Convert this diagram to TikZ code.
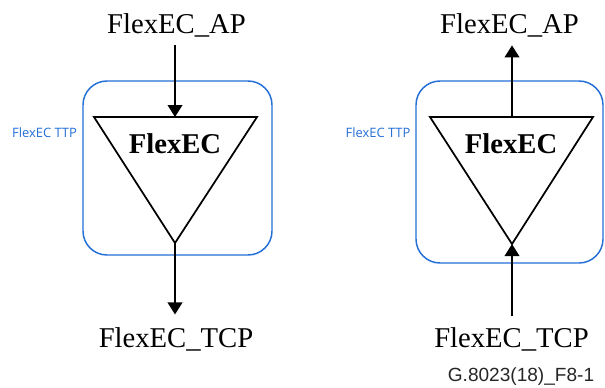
\documentclass[tikz,border=0pt]{standalone}
\usepackage{fontspec}
\setmainfont{Liberation Serif}
\newfontfamily\ttpfont{Open Sans}
\newfontfamily\notefont{Liberation Sans}
\usetikzlibrary{arrows.meta, positioning}
\definecolor{ttpblue}{RGB}{35,110,215}
\tikzset{
    port style/.style={inner sep=0pt, anchor=base, font=\fontsize{21.5}{24}\selectfont},
    func style/.style={inner sep=0pt, anchor=base, font=\fontsize{21.5}{24}\selectfont\bfseries},
    ttp style/.style={draw=ttpblue, line width=1.1pt, rectangle, rounded corners=18pt},
    ttp label/.style={inner sep=0pt, anchor=base, text=ttpblue, font=\ttpfont\fontsize{9.7}{11}\selectfont},
    note style/.style={inner sep=0pt, anchor=base, text=black!85, font=\notefont\fontsize{14.3}{16}\selectfont},
    tri style/.style={draw, line width=1.3pt, line join=miter},
    arrow style/.style={-{Triangle[length=9pt,width=11pt]}, line width=1.3pt},
}

\begin{document}
\begin{tikzpicture}[x=0.75pt, y=-0.75pt]
    \useasboundingbox (0,0) rectangle (605,387);

    % sink side
    \node (lbox) [ttp style, minimum width=141.75pt, minimum height=130.5pt] at (177.5,168) {};
    \node (lttp) [ttp label] at (44.5,137) {FlexEC TTP};
    \coordinate (ltl) at (94,117);
    \coordinate (ltr) at (257,117);
    \coordinate (ltop) at (175,117);
    \coordinate (lapex) at (175,243);
    \draw [tri style] (ltl) -- (ltr) -- (lapex) -- cycle;
    \node (lfunc) [func style] at (175,153) {FlexEC};
    \node (lap) [port style] at (176.5,33) {FlexEC\_AP};
    \node (ltcp) [port style] at (176,347) {FlexEC\_TCP};
    \draw [arrow style, shorten <=6.3pt] (ltop |- lap.south) -- (ltop);
    \draw [arrow style, shorten >=9.3pt] (lapex) -- (lapex |- ltcp.north);

    % source side
    \node (rbox) [ttp style, minimum width=140.25pt, minimum height=136.5pt] at (509.5,172) {};
    \node (rttp) [ttp label] at (378,137) {FlexEC TTP};
    \coordinate (rtl) at (430,117);
    \coordinate (rtr) at (593,117);
    \coordinate (rtop) at (512,117);
    \coordinate (rapex) at (512,244);
    \draw [tri style] (rtl) -- (rtr) -- (rapex) -- cycle;
    \node (rfunc) [func style] at (511,153) {FlexEC};
    \node (rap) [port style] at (509.5,33) {FlexEC\_AP};
    \node (rtcp) [port style] at (511.5,347) {FlexEC\_TCP};
    \draw [arrow style, shorten >=6.3pt] (rtop) -- (rtop |- rap.south);
    \draw [arrow style, shorten <=7.8pt] (rapex |- rtcp.north) -- (rapex);

    \node (fignum) [note style] at (521,381) {G.8023(18)\_F8-1};
\end{tikzpicture}
\end{document}
